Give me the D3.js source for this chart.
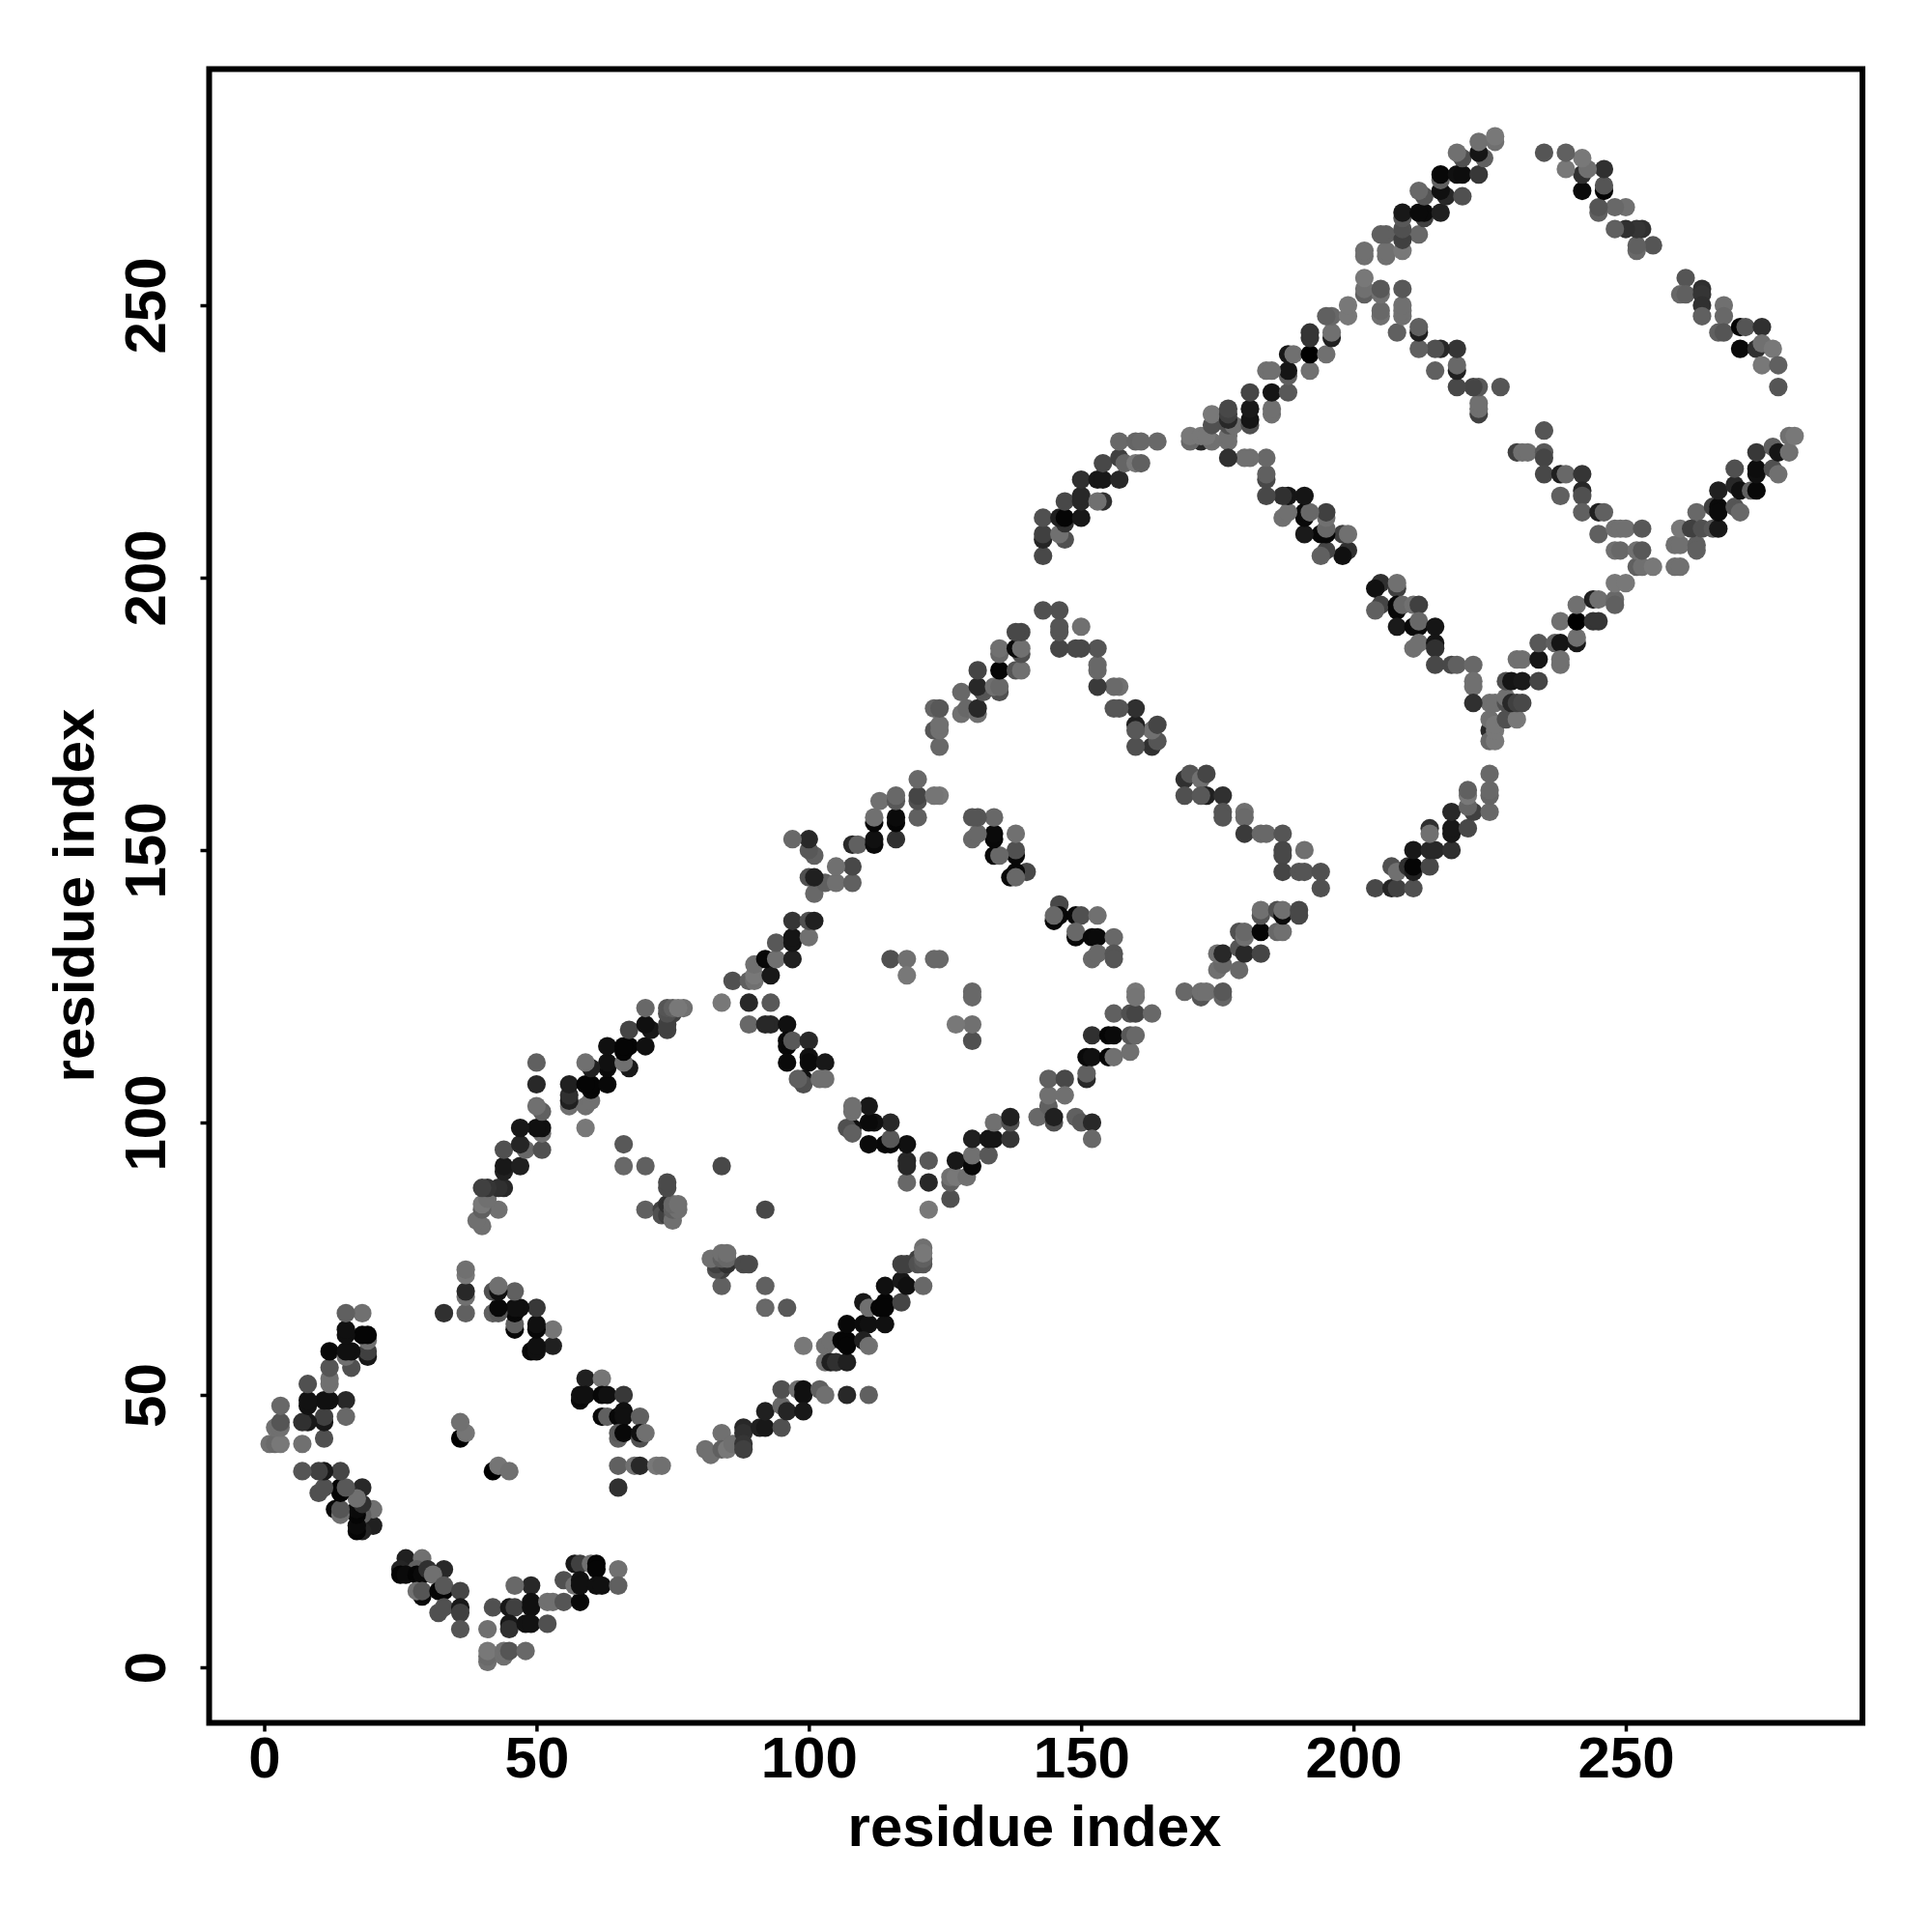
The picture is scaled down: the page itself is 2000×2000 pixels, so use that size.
<!DOCTYPE html>
<html><head><meta charset="utf-8">
<script src="https://cdn.jsdelivr.net/npm/d3@7"></script>
<style>html,body{margin:0;background:#fff}svg{display:block}text{font-family:"Liberation Sans",Arial,sans-serif;font-weight:700;fill:#000}</style>
</head><body><svg id="c" width="2000" height="2000"></svg>
<script>
// contacts [i, j, grey] with i > j ; the map is symmetric about i = j
const blockA = [[41,1,0x70],[41,2,0x6a],[41,3,0x78],[41,7,0x70],[44,2,0x70],[44,3,0x70],[45,3,0x55],[48,3,0x68],[42,11,0x50],[45,11,0x18],[46,11,0x40],[49,15,0x28],[46,15,0x68],[49,12,0x10],[49,11,0x10],[45,8,0x18],[45,7,0x30],[48,8,0x12],[49,8,0x12],[52,8,0x50],[52,12,0x70],[53,12,0x70],[55,12,0x55],[58,12,0x08],[55,16,0x50],[57,19,0x18],[58,19,0x40],[57,15,0x70],[58,16,0x10],[58,15,0x10],[60,19,0x70],[61,19,0x05],[61,18,0x05],[61,15,0x10],[62,15,0x10],[65,18,0x70],[65,15,0x60]];
const blockB = [[26,20,0x20],[29,20,0x70],[25,18,0x25],[28,18,0x60],[25,17,0x05],[26,17,0x0a],[28,17,0x05],[29,17,0x0a],[30,18,0x30],[33,18,0x28],[31,17,0x70],[29,13,0x0a],[28,14,0x70],[29,14,0x55],[32,14,0x05],[33,14,0x05],[33,15,0x58],[36,14,0x45],[32,10,0x50],[33,11,0x50],[36,11,0x18],[36,10,0x40],[36,7,0x55]];
const blockC = [[59,53,0x20],[62,53,0x75],[58,49,0x08],[58,50,0x10],[59,50,0x10],[62,50,0x08],[63,50,0x10],[66,50,0x38],[62,46,0x08],[63,46,0x60],[65,46,0x08],[66,47,0x10],[66,46,0x10],[69,46,0x60],[65,42,0x60],[65,43,0x58],[66,43,0x08],[69,42,0x50],[69,43,0x10],[70,43,0x70],[65,37,0x60],[68,37,0x70],[69,37,0x28],[72,37,0x78],[73,37,0x70],[65,33,0x30],[42,36,0x00],[43,37,0x75],[45,36,0x70]];
const blockD = [[81,40,0x70],[82,39,0x70],[84,43,0x70],[84,40,0x60],[85,40,0x78],[86,41,0x70],[88,44,0x28],[88,43,0x30],[88,41,0x35],[88,40,0x40],[91,44,0x20],[92,44,0x18],[95,44,0x50],[92,47,0x20],[95,48,0x68],[96,47,0x25],[95,51,0x50],[98,51,0x70],[99,51,0x10],[99,50,0x10],[99,47,0x18],[102,51,0x60],[103,50,0x70],[107,50,0x28],[111,50,0x60],[99,59,0x78],[103,59,0x70],[103,56,0x70],[104,56,0x20],[105,56,0x30],[107,56,0x20],[104,60,0x70],[106,60,0x05],[107,60,0x05],[107,59,0x05],[107,63,0x08],[110,63,0x0a],[111,63,0x10],[114,63,0x10],[110,60,0x20],[111,59,0x70],[110,67,0x18],[111,66,0x70],[113,66,0x05],[114,67,0x05],[114,66,0x05],[114,70,0x10],[117,67,0x45],[117,71,0x18],[118,70,0x10],[117,74,0x40],[118,74,0x40],[120,75,0x40],[120,74,0x50],[121,74,0x55],[121,75,0x60],[121,70,0x68],[121,77,0x70],[121,76,0x78]];
const blockE = [[84,70,0x60],[92,84,0x48],[84,73,0x40],[83,73,0x50],[83,74,0x40],[85,74,0x30],[83,75,0x50],[82,75,0x70],[84,75,0x60],[84,76,0x70],[85,75,0x68],[85,76,0x70],[88,74,0x4a],[89,74,0x4a],[92,70,0x60],[92,66,0x68],[96,66,0x58]];
const blockF = [[118,89,0x68],[122,89,0x28],[122,93,0x58],[118,93,0x28],[118,92,0x28],[118,96,0x10],[114,96,0x08],[115,96,0x08],[111,96,0x0a],[115,97,0x58],[115,100,0x28],[112,100,0x10],[111,100,0x0a],[111,103,0x18],[108,99,0x10],[107,99,0x50],[108,98,0x60],[108,102,0x70],[108,103,0x70],[122,84,0x78],[130,115,0x50],[130,118,0x70],[127,118,0x78],[130,124,0x68],[130,123,0x68]];
const blockG = [[126,86,0x50],[126,89,0x60],[126,90,0x70],[127,90,0x78],[129,90,0x70],[127,93,0x18],[130,92,0x08],[130,94,0x70],[130,97,0x20],[133,94,0x58],[133,97,0x15],[134,97,0x15],[134,100,0x70],[137,97,0x35],[137,100,0x50],[137,101,0x20],[142,101,0x68],[144,103,0x60],[145,100,0x50],[145,101,0x20],[144,105,0x70],[144,108,0x60],[147,108,0x48],[147,105,0x70],[149,101,0x60],[150,100,0x58],[152,100,0x28],[152,97,0x68],[151,108,0x28],[151,109,0x60],[151,112,0x0a],[152,112,0x10],[152,116,0x30],[155,116,0x05],[155,112,0x05],[156,112,0x70],[159,113,0x70],[156,116,0x0a],[159,116,0x58],[160,116,0x68],[156,120,0x60],[159,120,0x50],[160,120,0x45],[163,120,0x68],[160,124,0x78],[160,123,0x75]];
const blockH = [[146,140,0x48],[145,137,0x08],[146,138,0x08],[145,138,0x68],[149,138,0x08],[150,138,0x50],[153,138,0x70],[149,134,0x08],[149,135,0x68],[152,134,0x08],[153,134,0x0a],[156,134,0x68],[152,130,0x68],[153,131,0x68],[156,131,0x55],[156,130,0x55]];
const blockI = [[169,124,0x68],[172,123,0x55],[172,124,0x70],[173,124,0x70],[176,123,0x65],[176,124,0x58],[175,128,0x70],[176,129,0x68],[179,128,0x68],[175,131,0x70],[176,131,0x28],[179,132,0x55],[180,131,0x28],[183,131,0x45],[179,135,0x50],[180,134,0x70],[180,135,0x68],[183,135,0x05],[186,135,0x68],[187,135,0x70],[183,138,0x55],[183,139,0x70],[186,139,0x50],[187,138,0x0a],[187,139,0x70],[190,139,0x48],[190,138,0x48]];
const blockJ = [[169,163,0x30],[170,164,0x55],[172,163,0x70],[173,164,0x45],[169,160,0x50],[173,160,0x20],[172,160,0x58],[176,160,0x30],[176,157,0x55],[176,156,0x55],[180,157,0x70],[180,156,0x6a],[180,153,0x3a],[183,153,0x68],[184,153,0x68],[187,153,0x55],[187,150,0x48],[187,149,0x48],[191,150,0x70],[187,146,0x45],[190,146,0x55],[191,146,0x55],[194,146,0x50],[194,143,0x50]];
const blockK = [[204,143,0x48],[207,143,0x25],[208,143,0x40],[211,143,0x50],[207,147,0x50],[208,146,0x70],[210,147,0x30],[211,146,0x20],[211,147,0x05],[214,147,0x48],[211,150,0x18],[214,150,0x28],[215,150,0x28],[214,154,0x30],[214,153,0x70],[218,150,0x30],[218,153,0x18],[218,154,0x18],[218,157,0x28],[221,154,0x48],[222,157,0x40],[225,157,0x68],[221,158,0x65],[221,160,0x78],[221,161,0x60],[225,160,0x65],[225,161,0x68],[225,164,0x68]];
const blockL = [[225,172,0x28],[225,170,0x68],[226,170,0x78],[225,174,0x70],[226,172,0x78],[226,173,0x78],[228,174,0x50],[230,174,0x78],[225,177,0x70],[226,177,0x70],[228,177,0x50],[228,178,0x70],[229,177,0x28],[230,177,0x40],[231,177,0x48],[228,181,0x50],[229,181,0x15],[231,181,0x1a],[234,181,0x45],[230,185,0x70],[231,185,0x70],[234,185,0x15],[234,188,0x58],[237,188,0x60],[238,188,0x15],[238,184,0x70],[238,185,0x70],[241,188,0x18],[241,189,0x70],[238,192,0x70],[241,192,0x00],[244,192,0x35],[245,192,0x35],[241,195,0x70],[244,196,0x20],[245,196,0x70],[248,196,0x68],[248,195,0x60],[248,199,0x78],[250,199,0x78],[252,202,0x60],[253,202,0x70],[255,202,0x78],[259,202,0x70],[260,202,0x70],[259,206,0x70],[260,206,0x70],[260,209,0x78]];
const blockM = [[263,206,0x60],[263,205,0x60],[263,212,0x68],[262,209,0x40],[264,209,0x50],[266,209,0x58],[267,209,0x18],[266,213,0x40],[267,213,0x0a],[267,212,0x0a],[267,216,0x20],[270,213,0x55],[271,212,0x68],[270,217,0x28],[270,220,0x50],[271,216,0x10],[273,216,0x60],[274,216,0x08],[274,219,0x10],[274,220,0x0d],[274,223,0x38],[277,220,0x50],[278,219,0x70],[277,224,0x60],[278,223,0x15],[280,223,0x70],[280,226,0x70],[281,226,0x78]];
const blockN = [[235,227,0x55],[230,223,0x40],[231,223,0x70],[232,223,0x70],[235,223,0x58],[235,222,0x45],[235,219,0x48],[238,219,0x20],[239,219,0x68],[242,219,0x35],[242,216,0x28],[242,215,0x50],[238,215,0x60],[242,212,0x60],[245,212,0x20],[246,212,0x60],[245,208,0x60],[248,209,0x70],[249,209,0x70],[250,209,0x70],[253,209,0x58],[248,205,0x70],[249,205,0x68],[252,205,0x70],[253,205,0x58]];
const blockO = [[261,255,0x55],[260,252,0x68],[261,252,0x60],[264,253,0x30],[264,252,0x35],[264,250,0x30],[264,248,0x60],[268,250,0x70],[268,248,0x68],[267,245,0x60],[268,245,0x55],[271,246,0x05],[272,246,0x55],[275,246,0x30],[271,242,0x0a],[274,242,0x30],[275,243,0x70],[277,242,0x78],[275,239,0x78],[278,239,0x60],[278,235,0x55]];
const blockP = [[205,199,0x30],[204,198,0x10],[208,198,0x40],[208,199,0x70],[205,195,0x45],[204,194,0x60],[208,195,0x08],[208,194,0x08],[209,195,0x68],[211,195,0x70],[212,195,0x40],[208,191,0x1a],[211,191,0x0a],[212,191,0x0a],[212,192,0x68],[215,191,0x15],[211,187,0x70],[212,188,0x70],[215,188,0x15],[215,187,0x30],[215,184,0x48],[218,184,0x48],[219,184,0x60],[222,184,0x68],[222,181,0x70],[222,180,0x70],[222,177,0x30]];

const contactBlocks = [blockA,blockB,blockC,blockD,blockE,blockF,blockG,blockH,blockI,blockJ,blockK,blockL,blockM,blockN,blockO,blockP];
const xTicks = [0,50,100,150,200,250];
const yTicks = [0,50,100,150,200,250];
const xTitle = "residue index";
const yTitle = "residue index";

const svg = d3.select("#c");
const L=216.5,R=1928,T=71.5,B=1783.5;
const x = d3.scaleLinear().domain([0,250]).range([273.5,1683]);
const y = d3.scaleLinear().domain([0,250]).range([1726,316]);
const contacts = contactBlocks.flat();
const all = contacts.concat(contacts.map(d=>[d[1],d[0],d[2]]));
svg.append("g").selectAll("circle").data(all).join("circle")
  .attr("cx",d=>x(d[0])).attr("cy",d=>y(d[1])).attr("r",9.6)
  .attr("fill",d=>d3.rgb(d[2],d[2],d[2]));
svg.append("rect").attr("x",L).attr("y",T).attr("width",R-L).attr("height",B-T)
  .attr("fill","none").attr("stroke","#000").attr("stroke-width",6);
const gx = svg.append("g").attr("transform",`translate(0,${B})`)
  .call(d3.axisBottom(x).tickValues(xTicks).tickSize(9));
const gy = svg.append("g").attr("transform",`translate(${L},0)`)
  .call(d3.axisLeft(y).tickValues(yTicks).tickSize(9));
gx.select(".domain").remove(); gy.select(".domain").remove();
gx.selectAll("line").attr("stroke-width",3.5);
gy.selectAll("line").attr("stroke-width",3.5);
gx.selectAll("text").attr("font-size",60).attr("font-family",null).attr("dy",null).attr("y",56);
gy.selectAll("text").attr("font-size",60).attr("font-family",null).attr("dy",null)
  .attr("text-anchor","middle").attr("x",null).attr("y",0)
  .attr("transform","translate(-45.5,0) rotate(-90)");
svg.append("text").attr("x",1071).attr("y",1911).attr("text-anchor","middle").attr("font-size",60).text(xTitle);
svg.append("text").attr("transform","translate(97,927) rotate(-90)").attr("text-anchor","middle").attr("font-size",60).text(yTitle);
</script></body></html>
